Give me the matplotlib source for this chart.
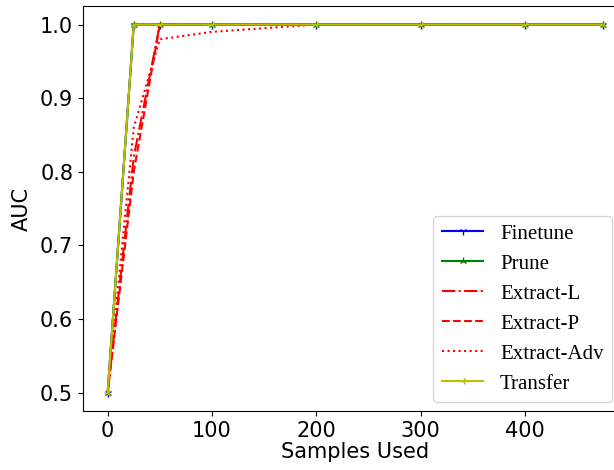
import numpy as np
import matplotlib
matplotlib.use('Agg')
from matplotlib import pyplot as plt

# Data
samples = [0, 25, 50, 100, 200, 300, 400, 475]
finetune = [0.5, 1.0, 1.0, 1.0, 1.0, 1.0, 1.0, 1.0]
prune = [0.5, 1.0, 1.0, 1.0, 1.0, 1.0, 1.0, 1.0]
extract_l = [0.5, 0.82, 1.0, 1.0, 1.0, 1.0, 1.0, 1.0]
extract_p = [0.5, 0.80, 1.0, 1.0, 1.0, 1.0, 1.0, 1.0]
extract_adv = [0.5, 0.86, 0.98, 0.99, 1.0, 1.0, 1.0, 1.0]
transfer = [0.5, 1.0, 1.0, 1.0, 1.0, 1.0, 1.0, 1.0]

fig = plt.figure(figsize=(6.14, 4.7), dpi=100)
ax = fig.add_axes([0.135, 0.1255, 0.888, 0.8615])

lw = 1.5
ms = 6
ax.plot(samples, finetune, color='b', marker='1', ms=ms, lw=lw, label='Finetune')
ax.plot(samples, prune, color='g', marker='2', ms=ms, lw=lw, label='Prune')
ax.plot(samples, extract_l, color='r', ls='-.', lw=lw, label='Extract-L')
ax.plot(samples, extract_p, color='r', ls='--', lw=lw, label='Extract-P')
ax.plot(samples, extract_adv, color='r', ls=':', lw=lw, label='Extract-Adv')
ax.plot(samples, transfer, color='y', marker='3', ms=ms, lw=lw, label='Transfer')

ax.set_xlim(-23.75, 498.75)
ax.set_ylim(0.475, 1.025)
ax.set_xticks([0, 100, 200, 300, 400])
ax.set_yticks([0.5, 0.6, 0.7, 0.8, 0.9, 1.0])
ax.tick_params(labelsize=15)
ax.set_xlabel('Samples Used', fontsize=15, labelpad=1)
ax.set_ylabel('AUC', fontsize=15, labelpad=6)

leg = ax.legend(loc='lower right', bbox_to_anchor=(612 / 614, 68 / 470),
                bbox_transform=fig.transFigure, borderaxespad=0,
                prop={'family': 'Liberation Serif', 'size': 15})

fig.savefig('out.png', dpi=100)
